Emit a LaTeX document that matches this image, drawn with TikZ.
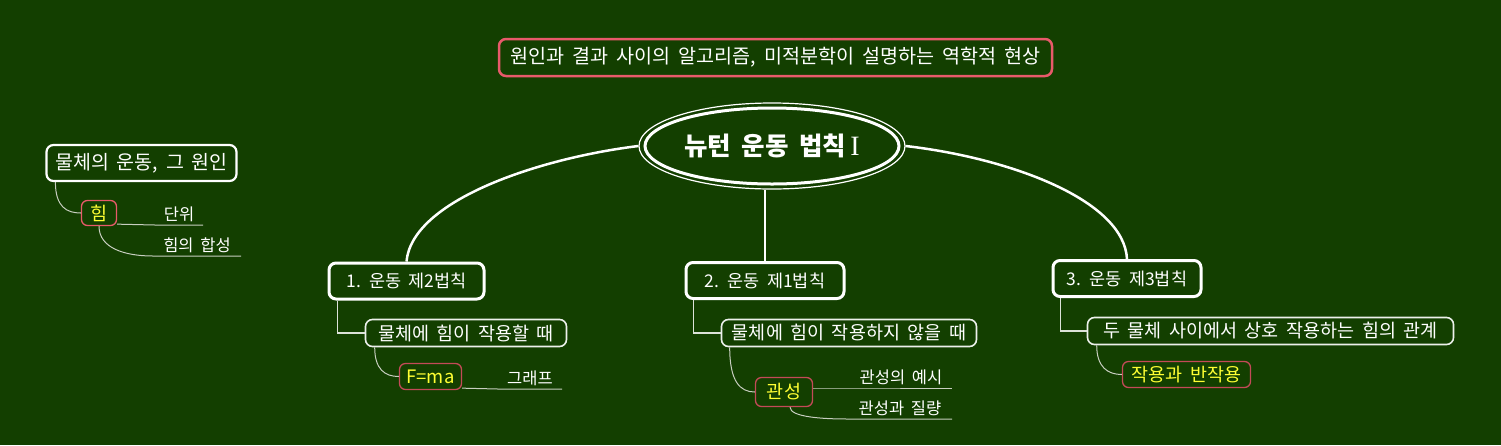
\documentclass[tikz,border=0pt]{standalone}
\usepackage{fontspec}
\setmainfont[WordSpace=1.8]{Noto Sans CJK KR}
\newfontfamily\romanfont{Liberation Serif}
\usetikzlibrary{shapes.geometric}
\definecolor{boardbg}{HTML}{133F00}
\definecolor{pinkline}{HTML}{E85A6A}
\definecolor{redline}{HTML}{C44A58}
\definecolor{yellowtext}{HTML}{FFFF33}
\definecolor{twigline}{HTML}{C8CEC0}

\begin{document}
\begin{tikzpicture}[x=1pt, y=-1pt,
    topic/.style={draw=pinkline, line width=2.5pt, rounded corners=7pt, fill=boardbg, text=white, inner sep=0pt, minimum width=553pt, minimum height=37pt, font=\fontsize{19.6}{22}\selectfont},
    root/.style={ellipse, draw=white, line width=1.2pt, fill=boardbg, text=white, inner sep=0pt, minimum width=266pt, minimum height=86pt, font=\fontsize{25.5}{28}\selectfont\bfseries},
    lawbox/.style={draw=white, line width=3pt, rounded corners=7pt, fill=boardbg, text=white, inner sep=0pt, minimum height=36pt, font=\fontsize{17.5}{20}\selectfont},
    casebox/.style={draw=white!92!boardbg, line width=1.6pt, rounded corners=7pt, fill=boardbg, text=white, inner sep=0pt, minimum height=27pt, font=\fontsize{18.5}{20}\selectfont},
    keybox/.style={draw=pinkline, line width=1.3pt, rounded corners=6pt, fill=boardbg, text=yellowtext, inner sep=0pt, minimum height=26pt, font=\fontsize{18.5}{20}\selectfont},
    leaf/.style={anchor=south, text=white, inner sep=3pt, font=\fontsize{16.5}{18}\selectfont},
    branch/.style={draw=white, line width=2.5pt},
    elbow/.style={draw=white!85!boardbg, line width=1.3pt},
    twig/.style={draw=twigline, line width=1pt}
]
    \fill[boardbg] (0,0) rectangle (1501,445);

    \node [topic] (topic) at (775.5,57.5) {원인과 결과 사이의 알고리즘, 미적분학이 설명하는 역학적 현상};
    \node [root] (newton) at (772,146) {뉴턴 운동 법칙\,{\romanfont\mdseries\fontsize{28}{28}\selectfont I}};
    \draw [white, line width=3pt] (newton.center) ellipse [x radius=127, y radius=38];

    % the three laws
    \node [lawbox, minimum width=155pt] (second) at (406.5,281) {1. 운동 제2법칙};
    \node [lawbox, minimum width=158pt] (first) at (765,280.5) {2. 운동 제1법칙};
    \node [lawbox, minimum width=148pt] (third) at (1127,278.5) {3. 운동 제3법칙};

    \node [casebox, minimum width=201pt] (acting) at (466,333) {물체에 힘이 작용할 때};
    \node [casebox, minimum width=255pt] (resting) at (849,333) {물체에 힘이 작용하지 않을 때};
    \node [casebox, minimum width=366pt] (mutual) at (1270.5,331) {두 물체 사이에서 상호 작용하는 힘의 관계};

    \node [keybox, minimum width=62pt, draw=redline] (fma) at (430.5,376.5) {F=ma};
    \node [keybox, minimum width=57pt, minimum height=29pt, draw=redline] (inertia) at (784,392) {관성};
    \node [keybox, minimum width=128pt, draw=redline] (action) at (1186.5,374.5) {작용과 반작용};

    \node [leaf, minimum width=64pt] (graph) at (530,389) {그래프};
    \node [leaf, minimum width=102pt] (example) at (901,388) {관성의 예시};
    \node [leaf, minimum width=104pt] (mass) at (900,419) {관성과 질량};

    % floating topic on the left
    \node [lawbox, line width=2.2pt, minimum width=190pt, font=\fontsize{19.5}{22}\selectfont] (cause) at (141.5,163) {물체의 운동, 그 원인};
    \node [keybox, minimum width=35pt, minimum height=25pt] (force) at (99,213) {힘};
    \node [leaf, minimum width=48pt] (unit) at (179,225) {단위};
    \node [leaf, minimum width=88pt] (sum) at (197,256) {힘의 합성};

    \path [branch] (newton.west) .. controls (540,158) and (412,200) .. (second.north);
    \path [branch] (first.north) -- (newton.south -| first.north);
    \path [branch] (newton.east) .. controls (1010,158) and (1124,200) .. (third.north);

    \path [elbow] ([xshift=10pt]second.south west) |- (acting.west);
    \path [elbow] ([xshift=9pt]first.south west) |- (resting.west);
    \path [elbow] ([xshift=9pt]third.south west) |- (mutual.west);

    \path [twig] ([xshift=10pt]acting.south west) .. controls +(0,22) and +(-14,0) .. (fma.west);
    \path [twig] ([xshift=9pt]resting.south west) .. controls +(0,34) and +(-15,0) .. (inertia.west);
    \path [twig] ([xshift=10pt]mutual.south west) .. controls +(0,22) and +(-14,0) .. (action.west);
    \path [twig] ([xshift=10pt]cause.south west) .. controls +(0,25) and +(-14,0) .. (force.west);

    \path [twig] ([yshift=2pt]fma.south east) -- (graph.south west) -- (graph.south east);
    \path [twig] ([yshift=4pt]inertia.east) -- (example.south west) -- (example.south east);
    \path [twig] ([xshift=6pt]inertia.south) .. controls +(0,10) and +(-25,0) .. (mass.south west) -- (mass.south east);
    \path [twig] ([yshift=2pt]force.south east) -- (unit.south west) -- (unit.south east);
    \path [twig] (force.south) .. controls +(0,22) and +(-28,0) .. (sum.south west) -- (sum.south east);
\end{tikzpicture}
\end{document}
